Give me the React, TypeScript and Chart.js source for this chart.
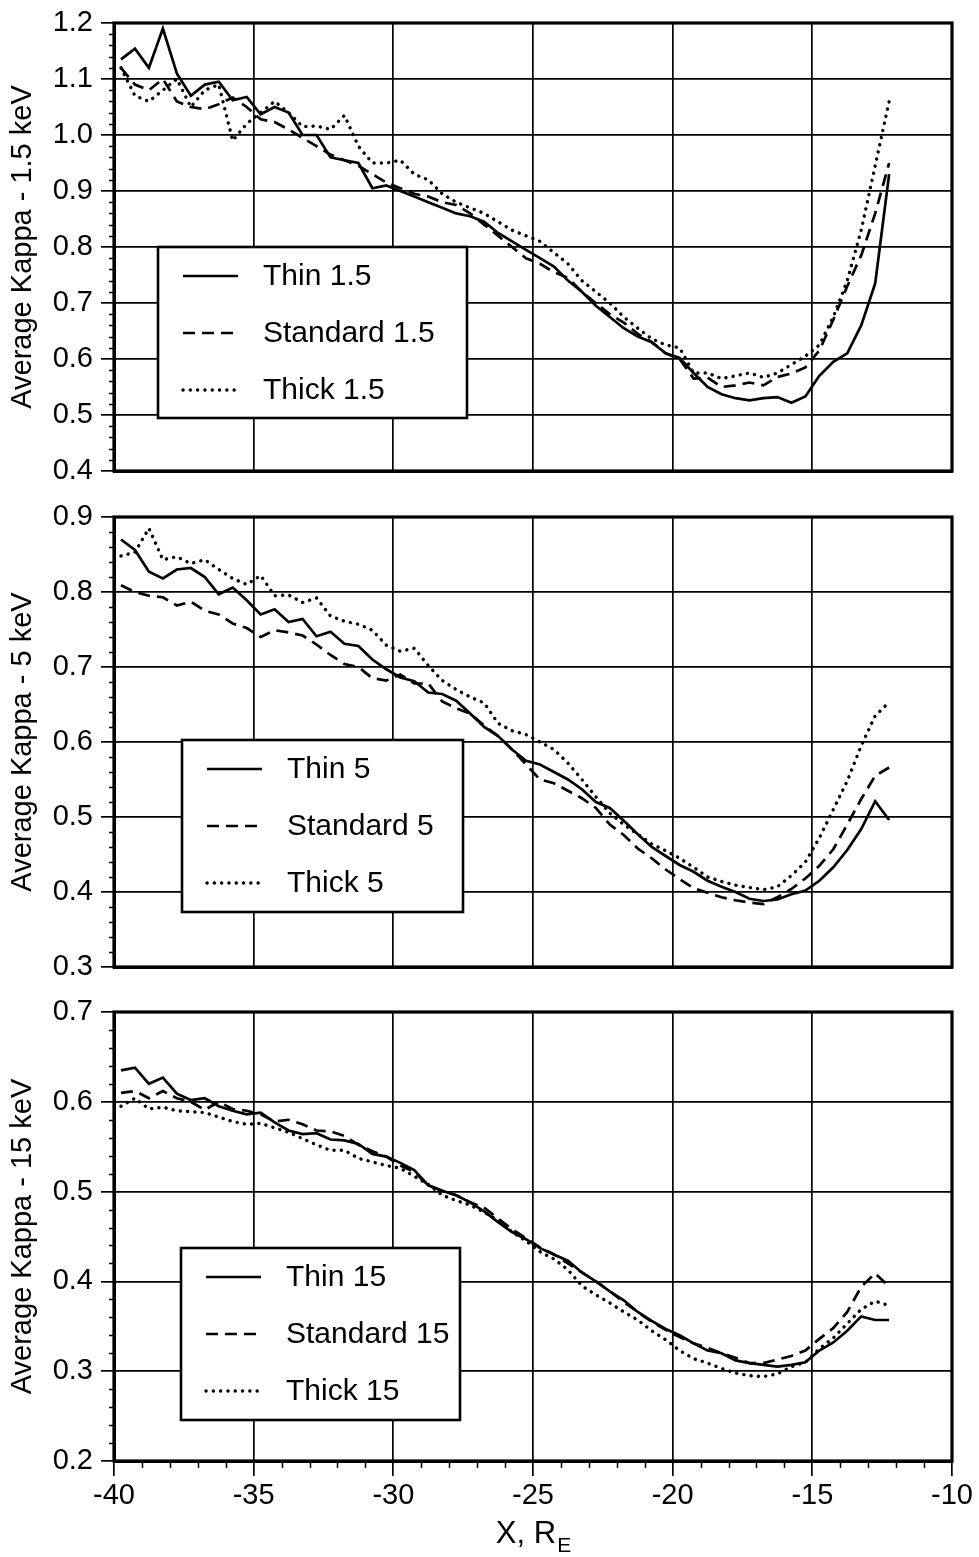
import React, { useEffect, useRef } from "react";
import { Chart, registerables } from "chart.js";

Chart.register(...registerables);

// ---------- data ----------
const xValues = [
  -39.75, -39.25, -38.75, -38.25, -37.75, -37.25, -36.75, -36.25, -35.75, -35.25,
  -34.75, -34.25, -33.75, -33.25, -32.75, -32.25, -31.75, -31.25, -30.75, -30.25,
  -29.75, -29.25, -28.75, -28.25, -27.75, -27.25, -26.75, -26.25, -25.75, -25.25,
  -24.75, -24.25, -23.75, -23.25, -22.75, -22.25, -21.75, -21.25, -20.75, -20.25,
  -19.75, -19.25, -18.75, -18.25, -17.75, -17.25, -16.75, -16.25, -15.75, -15.25,
  -14.75, -14.25, -13.75, -13.25, -12.75, -12.25,
];

const thin1p5 = [
  1.135, 1.154, 1.12, 1.19, 1.11, 1.07, 1.09, 1.095, 1.062, 1.068,
  1.037, 1.05, 1.04, 1.0, 1.0, 0.96, 0.955, 0.95, 0.905, 0.91,
  0.9, 0.89, 0.88, 0.87, 0.86, 0.855, 0.845, 0.825, 0.81, 0.795,
  0.78, 0.765, 0.74, 0.72, 0.695, 0.675, 0.655, 0.64, 0.63, 0.61,
  0.602, 0.575, 0.55, 0.537, 0.53, 0.526, 0.53, 0.532, 0.522, 0.533,
  0.57, 0.595, 0.61, 0.66, 0.735, 0.93,
];
const standard1p5 = [
  1.12, 1.09, 1.08, 1.1, 1.06, 1.05, 1.046, 1.055, 1.067, 1.05,
  1.028, 1.023, 1.01, 0.995, 0.98, 0.965, 0.955, 0.945, 0.93, 0.915,
  0.905, 0.895, 0.89, 0.88, 0.875, 0.86, 0.84, 0.82, 0.8, 0.78,
  0.77, 0.755, 0.745, 0.72, 0.7, 0.68, 0.665, 0.645, 0.63, 0.61,
  0.6, 0.565, 0.567, 0.55, 0.553, 0.558, 0.553, 0.568, 0.574, 0.585,
  0.615, 0.67, 0.73, 0.785, 0.86, 0.95,
];
const thick1p5 = [
  1.12, 1.07, 1.06, 1.08, 1.1, 1.05, 1.08, 1.09, 0.99, 1.02,
  1.04, 1.06, 1.04, 1.015, 1.016, 1.01, 1.035, 0.98, 0.95, 0.95,
  0.955, 0.93, 0.92, 0.895, 0.88, 0.87, 0.86, 0.845, 0.83, 0.82,
  0.81, 0.79, 0.77, 0.74, 0.72, 0.7, 0.675, 0.655, 0.636, 0.625,
  0.62, 0.575, 0.575, 0.565, 0.57, 0.575, 0.567, 0.575, 0.59, 0.605,
  0.625, 0.675, 0.74, 0.83, 0.945, 1.06,
];

const thin5 = [
  0.87, 0.856, 0.827, 0.818, 0.83, 0.832, 0.82, 0.797, 0.806, 0.789,
  0.77, 0.777, 0.76, 0.764, 0.741, 0.747, 0.731, 0.728, 0.71, 0.697,
  0.686, 0.681, 0.666, 0.664, 0.655, 0.638, 0.62, 0.608, 0.59, 0.575,
  0.57, 0.56, 0.55, 0.537, 0.52, 0.512, 0.495, 0.477, 0.46, 0.448,
  0.436, 0.427, 0.415, 0.407, 0.4, 0.391, 0.388, 0.39, 0.397, 0.402,
  0.415, 0.433, 0.456, 0.484, 0.521, 0.496,
];
const standard5 = [
  0.809, 0.8, 0.795, 0.793, 0.782, 0.787, 0.775, 0.77, 0.758, 0.752,
  0.74, 0.749, 0.746, 0.742, 0.73, 0.716, 0.704, 0.7, 0.685, 0.682,
  0.69, 0.678, 0.678, 0.654, 0.645, 0.638, 0.622, 0.608, 0.59, 0.57,
  0.55, 0.545, 0.535, 0.525, 0.512, 0.49, 0.476, 0.458, 0.445, 0.43,
  0.417, 0.405, 0.399, 0.393, 0.389, 0.386, 0.384, 0.393, 0.404, 0.418,
  0.435, 0.457, 0.49, 0.524, 0.555, 0.566,
];
const thick5 = [
  0.848, 0.853, 0.885, 0.843, 0.847, 0.838, 0.843, 0.83, 0.818, 0.81,
  0.822, 0.795, 0.796, 0.786, 0.792, 0.768, 0.761, 0.757, 0.749, 0.729,
  0.721, 0.725, 0.702, 0.682, 0.67, 0.66, 0.652, 0.625, 0.615, 0.61,
  0.6, 0.59, 0.572, 0.55, 0.527, 0.505, 0.49, 0.477, 0.464, 0.455,
  0.445, 0.433, 0.42, 0.414, 0.409, 0.406, 0.403, 0.407, 0.422, 0.44,
  0.472, 0.51, 0.548, 0.595, 0.635, 0.653,
];

const thin15 = [
  0.635, 0.638, 0.62, 0.627, 0.609, 0.602, 0.604, 0.595, 0.59, 0.586,
  0.588, 0.577, 0.568, 0.564, 0.565, 0.558, 0.557, 0.553, 0.542, 0.539,
  0.532, 0.524, 0.507, 0.501, 0.496, 0.488, 0.478, 0.466, 0.455, 0.447,
  0.437, 0.43, 0.423, 0.41, 0.4, 0.389, 0.379, 0.366, 0.356, 0.347,
  0.34, 0.331, 0.323, 0.32, 0.312, 0.309, 0.307, 0.305, 0.307, 0.31,
  0.323, 0.332, 0.345, 0.361, 0.357, 0.357,
];
const standard15 = [
  0.61, 0.612, 0.604, 0.612, 0.604, 0.6, 0.591, 0.6, 0.592, 0.59,
  0.586, 0.578, 0.58, 0.575, 0.568, 0.567, 0.562, 0.552, 0.545, 0.539,
  0.529, 0.522, 0.507, 0.501, 0.496, 0.488, 0.482, 0.47, 0.458, 0.448,
  0.438, 0.43, 0.42, 0.41, 0.4, 0.389, 0.377, 0.366, 0.355, 0.346,
  0.338, 0.331, 0.326, 0.32, 0.315, 0.309, 0.309, 0.313, 0.317, 0.323,
  0.336, 0.348, 0.366, 0.394, 0.409, 0.394,
];
const thick15 = [
  0.595, 0.604, 0.592, 0.594, 0.59, 0.589, 0.588, 0.583, 0.578, 0.575,
  0.576, 0.571, 0.566, 0.559, 0.552, 0.546, 0.546, 0.537, 0.533, 0.529,
  0.526, 0.517, 0.508, 0.496, 0.49, 0.485, 0.477, 0.468, 0.455, 0.445,
  0.433, 0.425, 0.413, 0.395, 0.385, 0.376, 0.366, 0.357, 0.345, 0.335,
  0.323, 0.314, 0.309, 0.303, 0.298, 0.295, 0.294, 0.297, 0.305, 0.31,
  0.325, 0.337, 0.353, 0.369, 0.378, 0.373,
];

const labels1p5 = ["Thin 1.5", "Standard 1.5", "Thick 1.5"];
const labels5 = ["Thin 5", "Standard 5", "Thick 5"];
const labels15 = ["Thin 15", "Standard 15", "Thick 15"];

const yTitles = ["Average Kappa - 1.5 keV", "Average Kappa - 5 keV", "Average Kappa - 15 keV"];
const yRanges = [
  [0.4, 1.2],
  [0.3, 0.9],
  [0.2, 0.7],
];
const xRange = [-40, -10];
const xMajorStep = 5;
const xTitleMain = "X, R";
const xTitleSub = "E";

// ---------- styles / layout ----------
const FONT = "'Liberation Sans', Arial, Helvetica, sans-serif";
const W = 979;

const lineStyles = [
  { borderWidth: 2.7, borderDash: [] as number[], borderCapStyle: "butt" },
  { borderWidth: 2.7, borderDash: [12, 7], borderCapStyle: "butt" },
  { borderWidth: 3.4, borderDash: [0.1, 7.2], borderCapStyle: "round" },
];

type PanelCfg = {
  top: number;
  height: number;
  xAxisHeight: number;
  bottom: boolean;
  series: number[][];
  labels: string[];
  title: string;
  range: number[];
  legend: { left: number; top: number; width: number; height: number };
};

const panels: PanelCfg[] = [
  {
    top: 0, height: 490, xAxisHeight: 19, bottom: false,
    series: [thin1p5, standard1p5, thick1p5], labels: labels1p5,
    title: yTitles[0], range: yRanges[0],
    legend: { left: 158, top: 247, width: 309, height: 171 },
  },
  {
    top: 494, height: 490, xAxisHeight: 17, bottom: false,
    series: [thin5, standard5, thick5], labels: labels5,
    title: yTitles[1], range: yRanges[1],
    legend: { left: 182, top: 246, width: 281, height: 172 },
  },
  {
    top: 989, height: 568, xAxisHeight: 96, bottom: true,
    series: [thin15, standard15, thick15], labels: labels15,
    title: yTitles[2], range: yRanges[2],
    legend: { left: 181, top: 259, width: 279, height: 172 },
  },
];

const decorPlugin = {
  id: "decor",
  afterDatasetsDraw(chart: any, _args: any, opts: any) {
    const { ctx } = chart;
    const b = opts.legend;
    ctx.save();
    ctx.fillStyle = "#fff";
    ctx.fillRect(b.left, b.top, b.width, b.height);
    ctx.setLineDash([]);
    ctx.lineWidth = 2.6;
    ctx.strokeStyle = "#000";
    ctx.strokeRect(b.left, b.top, b.width, b.height);
    chart.data.datasets.forEach((ds: any, i: number) => {
      const y = b.top + 29 + i * 57;
      ctx.beginPath();
      ctx.setLineDash(ds.borderDash || []);
      ctx.lineWidth = ds.borderWidth;
      ctx.lineCap = ds.borderCapStyle || "butt";
      ctx.moveTo(b.left + 25, y);
      ctx.lineTo(b.left + 80, y);
      ctx.stroke();
      ctx.setLineDash([]);
      ctx.fillStyle = "#000";
      ctx.font = `30px ${FONT}`;
      ctx.textBaseline = "middle";
      ctx.textAlign = "left";
      ctx.fillText(ds.label, b.left + 105, y + 1);
    });
    ctx.restore();
  },
  afterDraw(chart: any, _args: any, opts: any) {
    const { ctx, chartArea: a, scales } = chart;
    ctx.save();
    ctx.setLineDash([]);
    ctx.strokeStyle = "#000";
    // minor y ticks (every 0.02)
    ctx.lineWidth = 1.5;
    const ys = scales.y;
    const n = Math.round((ys.max - ys.min) / 0.02);
    ctx.beginPath();
    for (let k = 1; k < n; k++) {
      if (k % 5 === 0) continue;
      const py = Math.round(ys.getPixelForValue(ys.min + k * 0.02)) + 0.5;
      ctx.moveTo(a.left - 5, py);
      ctx.lineTo(a.left, py);
    }
    ctx.stroke();
    // minor x ticks (every 1) on the bottom panel
    if (opts.bottom) {
      const xs = scales.x;
      ctx.beginPath();
      for (let v = xs.min + 1; v < xs.max; v++) {
        if (v % 5 === 0) continue;
        const px = Math.round(xs.getPixelForValue(v)) + 0.5;
        ctx.moveTo(px, a.bottom);
        ctx.lineTo(px, a.bottom + 7);
      }
      ctx.stroke();
      // x axis title with subscript
      ctx.fillStyle = "#000";
      ctx.textBaseline = "alphabetic";
      ctx.textAlign = "left";
      ctx.font = `31px ${FONT}`;
      const w1 = ctx.measureText(opts.xMain).width;
      ctx.font = `21px ${FONT}`;
      const w2 = ctx.measureText(opts.xSub).width;
      const cx = (a.left + a.right) / 2;
      const start = cx - (w1 + w2) / 2;
      ctx.font = `31px ${FONT}`;
      ctx.fillText(opts.xMain, start, 554);
      ctx.font = `21px ${FONT}`;
      ctx.fillText(opts.xSub, start + w1 + 1, 563);
    }
    // plot frame
    ctx.lineWidth = 3.2;
    ctx.strokeRect(a.left, a.top, a.right - a.left, a.bottom - a.top);
    ctx.restore();
  },
};

function Panel({ cfg }: { cfg: PanelCfg }) {
  const ref = useRef<HTMLCanvasElement>(null);
  useEffect(() => {
    const datasets = cfg.series.map((s, i) => ({
      label: cfg.labels[i],
      data: s.map((v, j) => ({ x: xValues[j], y: v })),
      borderColor: "#000",
      backgroundColor: "#000",
      pointRadius: 0,
      tension: 0,
      fill: false,
      ...lineStyles[i],
    }));
    const chart = new Chart(ref.current as HTMLCanvasElement, {
      type: "line",
      data: { datasets: datasets as any },
      plugins: [decorPlugin as any],
      options: {
        responsive: false,
        animation: false,
        devicePixelRatio: 1,
        layout: { padding: { top: 23, right: 27, left: 0, bottom: 0 } },
        plugins: {
          legend: { display: false },
          tooltip: { enabled: false },
          decor: {
            legend: cfg.legend,
            bottom: cfg.bottom,
            xMain: xTitleMain,
            xSub: xTitleSub,
          },
        } as any,
        scales: {
          x: {
            type: "linear",
            min: xRange[0],
            max: xRange[1],
            afterFit: (s: any) => {
              s.height = cfg.xAxisHeight;
              s.paddingLeft = 0;
              s.paddingRight = 0;
            },
            ticks: {
              stepSize: xMajorStep,
              display: cfg.bottom,
              color: "#000",
              padding: 3,
              maxRotation: 0,
              font: { family: FONT, size: 29 },
            },
            grid: {
              color: "#000",
              lineWidth: 1.7,
              drawTicks: cfg.bottom,
              tickLength: 15,
            },
            border: { display: true, color: "#000", width: 3 },
          },
          y: {
            type: "linear",
            min: cfg.range[0],
            max: cfg.range[1],
            afterFit: (s: any) => {
              s.width = 114;
              s.paddingTop = 0;
              s.paddingBottom = 0;
            },
            ticks: {
              stepSize: 0.1,
              color: "#000",
              padding: 8,
              autoSkip: false,
              font: { family: FONT, size: 29 },
              callback: (v: any) => Number(v).toFixed(1),
            },
            grid: {
              color: "#000",
              lineWidth: 1.7,
              drawTicks: true,
              tickLength: 13,
            },
            border: { display: true, color: "#000", width: 3 },
            title: {
              display: true,
              text: cfg.title,
              color: "#000",
              font: { family: FONT, size: 29 },
              padding: { top: 6, bottom: 0 },
            },
          },
        },
      } as any,
    });
    return () => chart.destroy();
  }, []);
  return (
    <canvas
      ref={ref}
      width={W}
      height={cfg.height}
      style={{ position: "absolute", left: 0, top: cfg.top, width: W, height: cfg.height, display: "block" }}
    />
  );
}

export default function App() {
  return (
    <div style={{ position: "absolute", left: 0, top: 0, width: W, height: 1557, background: "#fff", overflow: "hidden" }}>
      {panels.map((p, i) => (
        <Panel key={i} cfg={p} />
      ))}
    </div>
  );
}
